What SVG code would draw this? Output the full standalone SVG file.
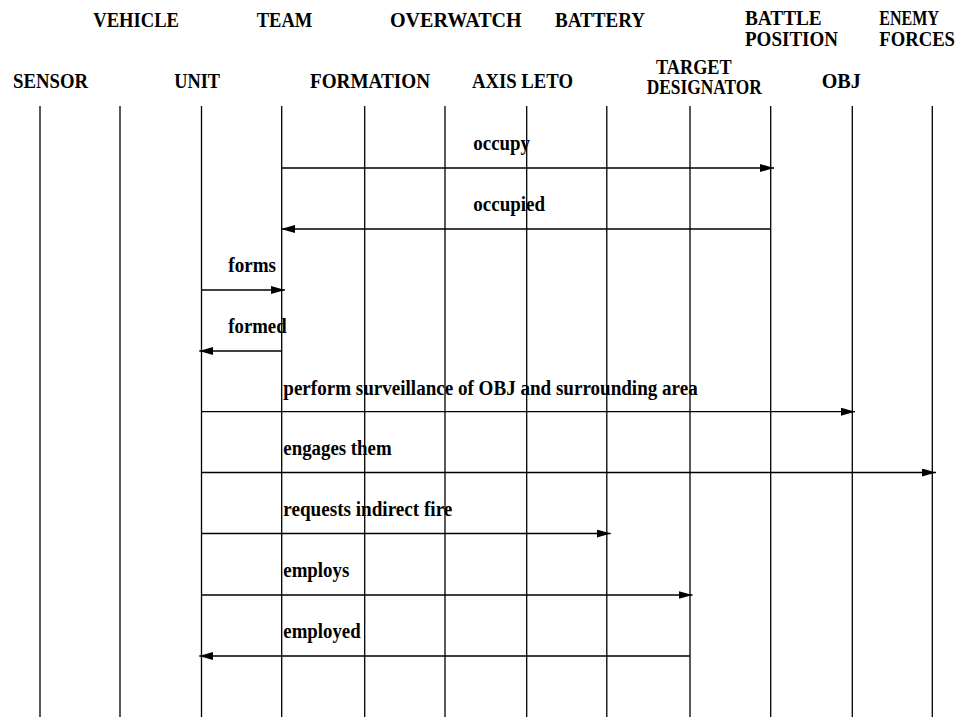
<svg xmlns="http://www.w3.org/2000/svg" width="962" height="717" viewBox="0 0 962 717">
<style>
  text { font-family: "Liberation Serif", "Times New Roman", serif; font-weight: bold; font-size: 20.5px; fill: #000; }
  .life { stroke: #000; stroke-width: 1.3; fill: none; }
  .msg { stroke: #000; stroke-width: 1.3; fill: none; marker-end: url(#arrow); }
</style>
<defs>
  <marker id="arrow" markerUnits="userSpaceOnUse" markerWidth="14" markerHeight="8" refX="14" refY="4" orient="auto">
    <path d="M0,0 L14,4 L0,8 Z" fill="#000"/>
  </marker>
</defs>
<rect width="962" height="717" fill="#fff"/>

<g id="node-sensor"><line class="life" x1="40" y1="106" x2="40" y2="717"/><text x="13" y="88.3" textLength="75" lengthAdjust="spacingAndGlyphs">SENSOR</text></g>
<g id="node-vehicle"><line class="life" x1="120" y1="106" x2="120" y2="717"/><text x="93.3" y="26.7" textLength="85.7" lengthAdjust="spacingAndGlyphs">VEHICLE</text></g>
<g id="node-unit"><line class="life" x1="201.5" y1="106" x2="201.5" y2="717"/><text x="174.3" y="88.3" textLength="45.7" lengthAdjust="spacingAndGlyphs">UNIT</text></g>
<g id="node-team"><line class="life" x1="281.7" y1="106" x2="281.7" y2="717"/><text x="256.7" y="26.7" textLength="55.6" lengthAdjust="spacingAndGlyphs">TEAM</text></g>
<g id="node-formation"><line class="life" x1="364.7" y1="106" x2="364.7" y2="717"/><text x="310" y="88.3" textLength="120" lengthAdjust="spacingAndGlyphs">FORMATION</text></g>
<g id="node-overwatch"><line class="life" x1="445" y1="106" x2="445" y2="717"/><text x="390" y="26.7" textLength="131.7" lengthAdjust="spacingAndGlyphs">OVERWATCH</text></g>
<g id="node-axis-leto"><line class="life" x1="526.7" y1="106" x2="526.7" y2="717"/><text x="472" y="87.5" textLength="101" lengthAdjust="spacingAndGlyphs">AXIS LETO</text></g>
<g id="node-battery"><line class="life" x1="606.8" y1="106" x2="606.8" y2="717"/><text x="555" y="26.7" textLength="90" lengthAdjust="spacingAndGlyphs">BATTERY</text></g>
<g id="node-target-designator"><line class="life" x1="690" y1="106" x2="690" y2="717"/><text x="656" y="74" textLength="75.7" lengthAdjust="spacingAndGlyphs">TARGET</text><text x="646.7" y="94.3" textLength="115" lengthAdjust="spacingAndGlyphs">DESIGNATOR</text></g>
<g id="node-battle-position"><line class="life" x1="770.7" y1="106" x2="770.7" y2="717"/><text x="745" y="25.3" textLength="76.7" lengthAdjust="spacingAndGlyphs">BATTLE</text><text x="745" y="45.6" textLength="93" lengthAdjust="spacingAndGlyphs">POSITION</text></g>
<g id="node-obj"><line class="life" x1="852.3" y1="106" x2="852.3" y2="717"/><text x="821.7" y="88.3" textLength="39" lengthAdjust="spacingAndGlyphs">OBJ</text></g>
<g id="node-enemy-forces"><line class="life" x1="932.3" y1="106" x2="932.3" y2="717"/><text x="879.3" y="25.3" textLength="59.7" lengthAdjust="spacingAndGlyphs">ENEMY</text><text x="879.3" y="45.6" textLength="75.7" lengthAdjust="spacingAndGlyphs">FORCES</text></g>

<g id="connectors">
  <line class="msg" x1="281.7" y1="168" x2="774" y2="168"/>
  <text x="473.3" y="149.5" textLength="56.7" lengthAdjust="spacingAndGlyphs">occupy</text>
  <line class="msg" x1="770.7" y1="229" x2="281" y2="229"/>
  <text x="473.3" y="210.5" textLength="71.7" lengthAdjust="spacingAndGlyphs">occupied</text>
  <line class="msg" x1="201.5" y1="290" x2="285" y2="290"/>
  <text x="228.3" y="271.5" textLength="47.7" lengthAdjust="spacingAndGlyphs">forms</text>
  <line class="msg" x1="281.7" y1="351" x2="199.3" y2="351"/>
  <text x="228.3" y="332.8" textLength="58.3" lengthAdjust="spacingAndGlyphs">formed</text>
  <line class="msg" x1="201.5" y1="411.7" x2="855" y2="411.7"/>
  <text x="283.3" y="394.5" textLength="414.4" lengthAdjust="spacingAndGlyphs">perform surveillance of OBJ and surrounding area</text>
  <line class="msg" x1="201.5" y1="472.5" x2="936" y2="472.5"/>
  <text x="283.3" y="455" textLength="108.3" lengthAdjust="spacingAndGlyphs">engages them</text>
  <line class="msg" x1="201.5" y1="533.5" x2="610.7" y2="533.5"/>
  <text x="283.3" y="515.7" textLength="169" lengthAdjust="spacingAndGlyphs">requests indirect fire</text>
  <line class="msg" x1="201.5" y1="595" x2="692.5" y2="595"/>
  <text x="283.3" y="576.7" textLength="66" lengthAdjust="spacingAndGlyphs">employs</text>
  <line class="msg" x1="690" y1="656" x2="199.3" y2="656"/>
  <text x="283.3" y="638" textLength="77.3" lengthAdjust="spacingAndGlyphs">employed</text>
</g>
</svg>
